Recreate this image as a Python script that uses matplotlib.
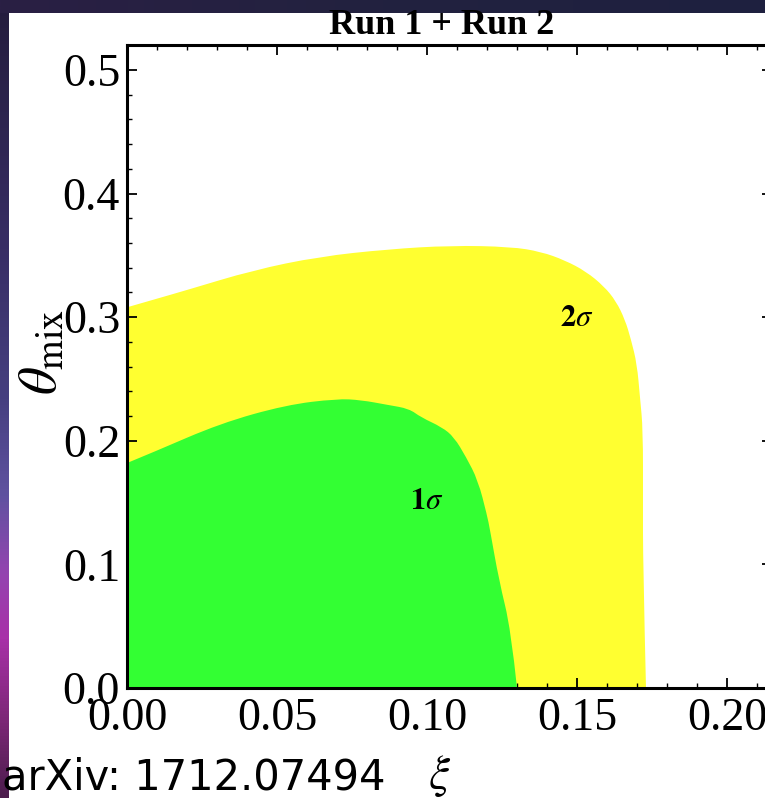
import numpy as np
import matplotlib
matplotlib.use("Agg")
import matplotlib.pyplot as plt
from matplotlib.colors import LinearSegmentedColormap
from matplotlib.ticker import MultipleLocator
from matplotlib.path import Path
from matplotlib.patches import PathPatch

# ---- data ----
# 2 sigma region boundary (xi, theta_mix)
xi_2sig = [0.000, 0.010, 0.020, 0.042, 0.064, 0.087, 0.108, 0.128, 0.138,
           0.146, 0.153, 0.159, 0.163, 0.166, 0.168, 0.170, 0.171, 0.172,
           0.172, 0.172, 0.173]
th_2sig = [0.308, 0.315, 0.322, 0.338, 0.349, 0.355, 0.358, 0.357, 0.353,
           0.346, 0.337, 0.325, 0.313, 0.298, 0.282, 0.262, 0.235, 0.209,
           0.150, 0.101, 0.000]
# 1 sigma region boundary
xi_1sig = [0.000, 0.009, 0.031, 0.053, 0.070, 0.078, 0.087, 0.094, 0.098,
           0.105, 0.109, 0.113, 0.117, 0.120, 0.121, 0.124, 0.128, 0.130]
th_1sig = [0.182, 0.191, 0.214, 0.229, 0.234, 0.233, 0.229, 0.226, 0.219,
           0.211, 0.203, 0.187, 0.168, 0.140, 0.128, 0.087, 0.047, 0.000]

labels = [r"$\mathbf{2}\sigma$", r"$\mathbf{1}\sigma$"]
label_pos = [(0.150, 0.300), (0.100, 0.152)]

xticks = [0.00, 0.05, 0.10, 0.15, 0.20]
xtick_labels = ["0.00", "0.05", "0.10", "0.15", "0.20"]
yticks = [0.0, 0.1, 0.2, 0.3, 0.4, 0.5]
ytick_labels = ["0.0", "0.1", "0.2", "0.3", "0.4", "0.5"]

W, H = 765, 798
plt.rcParams["mathtext.fontset"] = "stix"
fig = plt.figure(figsize=(W / 100, H / 100), dpi=100, facecolor="white")

# ---- main axes ----
left = 127 / W
bottom = (H - 688) / H
xmax, ymax = 0.215, 0.52
ax = fig.add_axes([left, bottom, xmax * 3000 / W, ymax * 1236 / H])
ax.set_xlim(0, xmax)
ax.set_ylim(0, ymax)


def region_path(xs, ys):
    """Closed region under a smooth (quadratic B-spline) boundary."""
    pts = list(zip(xs, ys))
    verts = [(0.0, 0.0), pts[0]]
    codes = [Path.MOVETO, Path.LINETO]
    n = len(pts)
    for i in range(1, n - 1):
        ctrl = pts[i]
        if i < n - 2:
            end = ((pts[i][0] + pts[i + 1][0]) / 2, (pts[i][1] + pts[i + 1][1]) / 2)
        else:
            end = pts[-1]
        verts += [ctrl, end]
        codes += [Path.CURVE3, Path.CURVE3]
    verts += [(0.0, 0.0)]
    codes += [Path.CLOSEPOLY]
    return Path(verts, codes)


yellow = "#ffff30"
green = "#33ff33"
ax.add_patch(PathPatch(region_path(xi_2sig, th_2sig), facecolor=yellow, lw=0, zorder=1))
ax.add_patch(PathPatch(region_path(xi_1sig, th_1sig), facecolor=green, lw=0, zorder=2))

for lab, (x, y) in zip(labels, label_pos):
    ax.text(x, y, lab, fontsize=22, ha="center", va="center", zorder=3)

ax.set_xticks(xticks)
ax.set_xticklabels(xtick_labels)
ax.set_yticks(yticks)
ax.set_yticklabels(ytick_labels)
ax.xaxis.set_minor_locator(MultipleLocator(0.01))
ax.yaxis.set_minor_locator(MultipleLocator(0.02))
ax.tick_params(which="both", direction="in", top=True, right=True, color="black")
ax.tick_params(which="major", length=7, width=1.3)
ax.tick_params(which="minor", length=3.5, width=1.0)
ax.tick_params(axis="x", which="major", pad=7)
ax.tick_params(axis="y", which="major", pad=5)
for lab in ax.get_xticklabels() + ax.get_yticklabels():
    lab.set_family("Liberation Serif")
    lab.set_fontsize(33)
for s in ax.spines.values():
    s.set_linewidth(2.2)

fig.text(442 / W, 1 - 26 / H, "Run 1 + Run 2", fontsize=26, fontweight="bold",
         family="Liberation Serif", ha="center", va="center")
fig.text(42 / W, 1 - 352 / H, r"$\theta_{\rm mix}$", fontsize=39, rotation=90,
         ha="center", va="center")
fig.text(440 / W, 1 - 776 / H, r"$\xi$", fontsize=34, ha="center", va="center")
fig.text(2 / W, 1 - 778 / H, "arXiv: 1712.07494", fontsize=30, family="DejaVu Sans",
         ha="left", va="center")

# ---- slide background strips ----
cmap_left = LinearSegmentedColormap.from_list(
    "leftstrip",
    [(0.0, "#241c3c"), (0.3, "#372d63"), (0.5, "#463f80"), (0.62, "#5f52a0"),
     (0.72, "#9444b0"), (0.8, "#a830a8"), (0.9, "#7e2878"), (1.0, "#4c1c4c")])
axl = fig.add_axes([0, 0, 9 / W, 1])
axl.imshow(np.linspace(0, 1, 256).reshape(-1, 1), aspect="auto", cmap=cmap_left)
axl.axis("off")

cmap_top = LinearSegmentedColormap.from_list("topstrip", ["#2a1f44", "#22223f", "#1e2040"])
axt = fig.add_axes([0, 1 - 13 / H, 1, 13 / H])
axt.imshow(np.linspace(0, 1, 256).reshape(1, -1), aspect="auto", cmap=cmap_top)
axt.axis("off")

fig.savefig("out.png", dpi=100)
